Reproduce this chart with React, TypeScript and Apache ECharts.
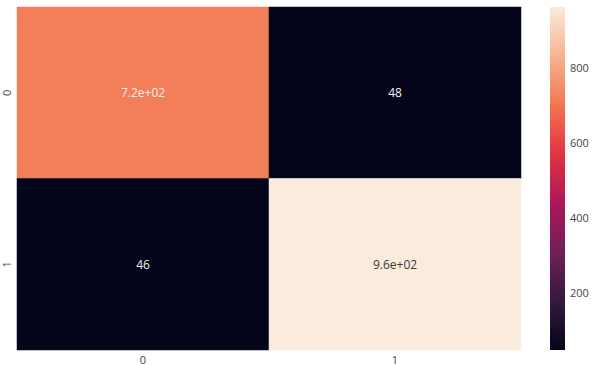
import React, { useEffect, useRef } from "react";
import * as echarts from "echarts";

// Confusion-matrix style heatmap (2x2) with a rocket colour bar.
const xCategories = ["0", "1"];
const yCategories = ["0", "1"];
// [column, row, count]
const cellValues: [number, number, number][] = [
  [0, 0, 719],
  [1, 0, 48],
  [0, 1, 46],
  [1, 1, 961],
];
const colorbarTicks = [200, 400, 600, 800];

// seaborn "rocket" colormap, sampled at evenly spaced stops (0, 1/7, ..., 1)
const rocketStops = [
  "#03051a",
  "#35193e",
  "#701f57",
  "#ad1759",
  "#e13342",
  "#f37651",
  "#f6b48f",
  "#faebdd",
];

const values = cellValues.map((d) => d[2]);
const vMin = Math.min(...values);
const vMax = Math.max(...values);

// Mimics Python's "{:.2g}" formatting used by the annotations
function fmt2g(v: number): string {
  if (v === 0) return "0";
  const exp = Math.floor(Math.log10(Math.abs(v)));
  if (exp < -4 || exp >= 2) {
    const m = v / Math.pow(10, exp);
    let ms = m.toFixed(1);
    let e = exp;
    if (parseFloat(ms) >= 10) {
      ms = (m / 10).toFixed(1);
      e += 1;
    }
    const sign = e < 0 ? "-" : "+";
    const ea = Math.abs(e);
    return `${ms}e${sign}${ea < 10 ? "0" + ea : ea}`;
  }
  return String(parseFloat(v.toPrecision(2)));
}

function hexToRgb(h: string) {
  const n = parseInt(h.slice(1), 16);
  return [(n >> 16) & 255, (n >> 8) & 255, n & 255];
}

function colorAt(v: number): string {
  const t = Math.max(0, Math.min(1, (v - vMin) / (vMax - vMin)));
  const pos = t * (rocketStops.length - 1);
  const i = Math.min(rocketStops.length - 2, Math.floor(pos));
  const f = pos - i;
  const a = hexToRgb(rocketStops[i]);
  const b = hexToRgb(rocketStops[i + 1]);
  const c = a.map((x, k) => Math.round(x + (b[k] - x) * f));
  return `rgb(${c[0]},${c[1]},${c[2]})`;
}

function textColorFor(v: number): string {
  const t = (v - vMin) / (vMax - vMin);
  return t > 0.8 ? "#3a3a3a" : "#f4f0ee";
}

const FONT = "'Open Sans', 'DejaVu Sans', sans-serif";
const TICK_COLOR = "#444";

export default function App() {
  const ref = useRef<HTMLDivElement>(null);

  useEffect(() => {
    if (!ref.current) return;
    const chart = echarts.init(ref.current, null, { renderer: "svg" });

    const option: any = {
      animation: false,
      backgroundColor: "#ffffff",
      textStyle: { fontFamily: FONT },
      grid: [
        { left: 17, right: 79, top: 7, bottom: 15 },
        { left: 550, width: 15, top: 7, bottom: 15 },
      ],
      xAxis: [
        {
          type: "category",
          gridIndex: 0,
          data: xCategories,
          axisLine: { show: false },
          axisTick: { show: false },
          splitLine: { show: false },
          axisLabel: {
            color: TICK_COLOR,
            fontSize: 11,
            margin: 4,
            lineHeight: 10,
            fontFamily: FONT,
          },
        },
        {
          type: "value",
          gridIndex: 1,
          min: 0,
          max: 1,
          show: false,
        },
      ],
      yAxis: [
        {
          type: "category",
          gridIndex: 0,
          data: yCategories,
          inverse: true,
          axisLine: { show: false },
          axisTick: { show: false },
          splitLine: { show: false },
          axisLabel: {
            color: TICK_COLOR,
            fontSize: 11,
            rotate: 90,
            margin: 6,
            lineHeight: 10,
            align: "center",
            verticalAlign: "bottom",
            fontFamily: FONT,
          },
        },
        {
          type: "value",
          gridIndex: 1,
          position: "right",
          min: vMin,
          max: vMax,
          axisLine: { show: false },
          splitLine: { show: false },
          axisTick: {
            show: true,
            length: 3,
            lineStyle: { color: TICK_COLOR },
            customValues: colorbarTicks,
          },
          axisLabel: {
            color: TICK_COLOR,
            fontSize: 11,
            margin: 5,
            fontFamily: FONT,
            customValues: colorbarTicks,
          },
        },
      ],
      visualMap: {
        show: false,
        type: "continuous",
        seriesIndex: 0,
        dimension: 2,
        min: vMin,
        max: vMax,
        inRange: { color: rocketStops },
      },
      series: [
        {
          type: "heatmap",
          xAxisIndex: 0,
          yAxisIndex: 0,
          data: cellValues.map((d) => ({
            value: d,
            label: {
              show: true,
              formatter: () => fmt2g(d[2]),
              color: textColorFor(d[2]),
              fontSize: 12,
              fontFamily: FONT,
            },
          })),
          itemStyle: { borderWidth: 0 },
          emphasis: { disabled: true },
        },
        {
          type: "custom",
          xAxisIndex: 1,
          yAxisIndex: 1,
          data: [[0, vMin, 1, vMax]],
          renderItem: (params: any, api: any) => {
            const p0 = api.coord([api.value(0), api.value(1)]);
            const p1 = api.coord([api.value(2), api.value(3)]);
            const n = 40;
            const colorStops = [];
            for (let i = 0; i <= n; i++) {
              const t = i / n;
              colorStops.push({ offset: t, color: colorAt(vMax - t * (vMax - vMin)) });
            }
            return {
              type: "rect",
              shape: {
                x: p0[0],
                y: p1[1],
                width: p1[0] - p0[0],
                height: p0[1] - p1[1],
              },
              style: {
                fill: new echarts.graphic.LinearGradient(0, 0, 0, 1, colorStops),
              },
            };
          },
          silent: true,
        },
      ],
    };

    chart.setOption(option);
    return () => chart.dispose();
  }, []);

  return (
    <div
      ref={ref}
      style={{ position: "absolute", left: 0, top: 0, width: 600, height: 365 }}
    />
  );
}
